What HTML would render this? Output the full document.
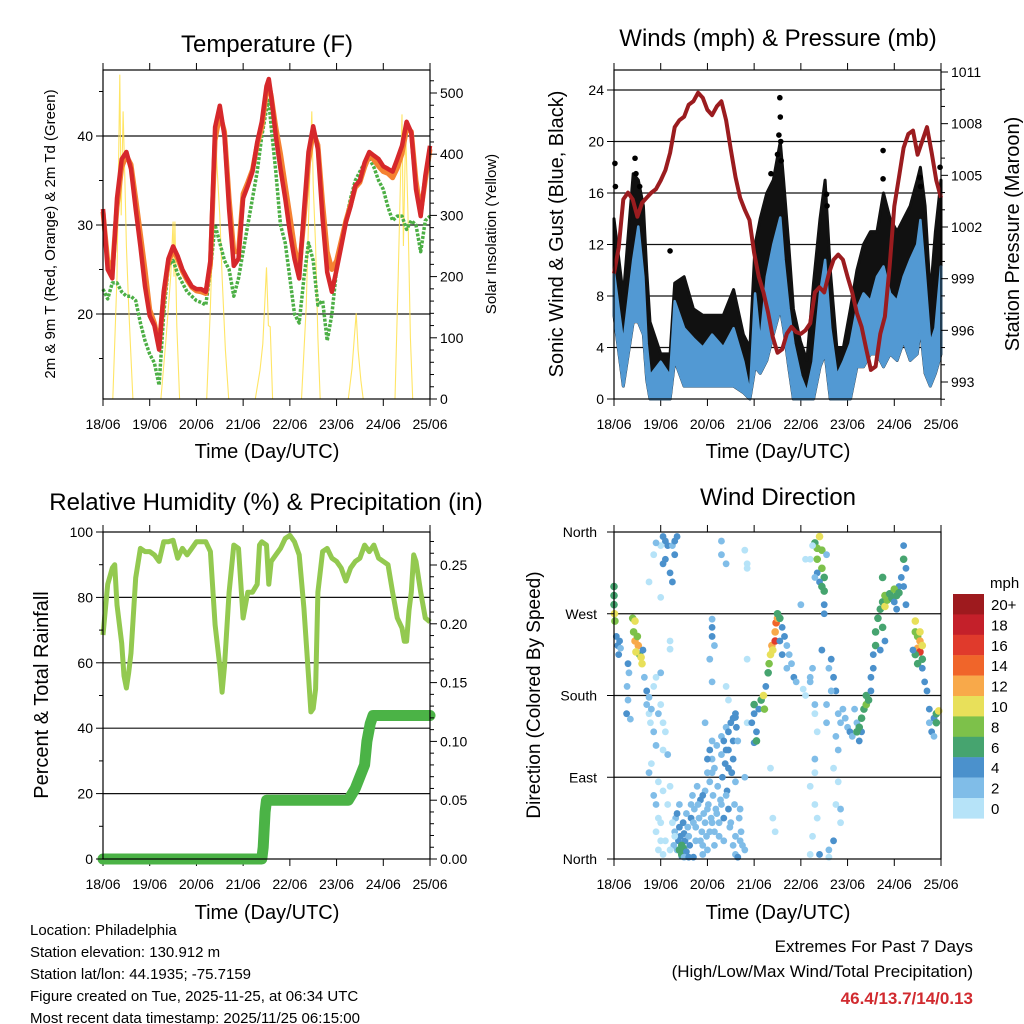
<!DOCTYPE html>
<html><head><meta charset="utf-8"><style>
html,body{margin:0;padding:0;background:#fff;}
svg{display:block;font-family:"Liberation Sans",sans-serif;}
</style></head><body>
<svg id="root" width="1024" height="1024" viewBox="0 0 1024 1024" xmlns="http://www.w3.org/2000/svg">
<rect x="0" y="0" width="1024" height="1024" fill="#fff"/>
<text x="267" y="52" font-size="24" text-anchor="middle">Temperature (F)</text>
<text x="778" y="46" font-size="24" text-anchor="middle">Winds (mph) &amp; Pressure (mb)</text>
<text x="266" y="510" font-size="24" text-anchor="middle">Relative Humidity (%) &amp; Precipitation (in)</text>
<text x="778" y="505" font-size="24" text-anchor="middle">Wind Direction</text>
<text x="267" y="458" font-size="20" text-anchor="middle">Time (Day/UTC)</text>
<text x="778" y="458" font-size="20" text-anchor="middle">Time (Day/UTC)</text>
<text x="267" y="919" font-size="20" text-anchor="middle">Time (Day/UTC)</text>
<text x="778" y="919" font-size="20" text-anchor="middle">Time (Day/UTC)</text>
<text transform="translate(55,234) rotate(-90)" font-size="15" text-anchor="middle">2m &amp; 9m T (Red, Orange) &amp; 2m Td (Green)</text>
<text transform="translate(496,234) rotate(-90)" font-size="15" text-anchor="middle">Solar Insolation (Yellow)</text>
<text transform="translate(563,234) rotate(-90)" font-size="20" text-anchor="middle">Sonic Wind &amp; Gust (Blue, Black)</text>
<text transform="translate(1019,234) rotate(-90)" font-size="20" text-anchor="middle">Station Pressure (Maroon)</text>
<text transform="translate(48,695) rotate(-90)" font-size="20" text-anchor="middle">Percent &amp; Total Rainfall</text>
<text transform="translate(540,695) rotate(-90)" font-size="19" text-anchor="middle">Direction (Colored By Speed)</text>
<g font-size="15">
<text x="30" y="935">Location: Philadelphia</text>
<text x="30" y="957">Station elevation: 130.912 m</text>
<text x="30" y="979">Station lat/lon: 44.1935; -75.7159</text>
<text x="30" y="1001">Figure created on Tue, 2025-11-25, at 06:34 UTC</text>
<text x="30" y="1023">Most recent data timestamp: 2025/11/25 06:15:00</text>
</g>
<g text-anchor="end">
<text x="973" y="952" font-size="17">Extremes For Past 7 Days</text>
<text x="973" y="977" font-size="17">(High/Low/Max Wind/Total Precipitation)</text>
<text x="973" y="1004" font-size="17" font-weight="bold" fill="#d12a2f">46.4/13.7/14/0.13</text>
</g>
</svg>
<script>
const days=["18/06","19/06","20/06","21/06","22/06","23/06","24/06","25/06"];
const tT=[0,0.1,0.2,0.3,0.4,0.5,0.6,0.7,0.8,0.9,1,1.1,1.2,1.3,1.4,1.5,1.6,1.7,1.8,1.9,2,2.1,2.2,2.3,2.4,2.5,2.6,2.7,2.8,2.9,3,3.1,3.2,3.3,3.4,3.5,3.55,3.6,3.7,3.8,3.9,4,4.1,4.2,4.3,4.4,4.5,4.6,4.7,4.8,4.9,5,5.1,5.2,5.3,5.4,5.5,5.6,5.7,5.8,5.9,6,6.1,6.2,6.3,6.4,6.5,6.6,6.7,6.8,6.9,7];
const tempRed=[31.8,25,24,33,37.4,38.2,36.3,31.8,27.6,23.1,19.8,18.7,16,22.5,26.2,27.6,26.5,25,24,23.1,22.8,22.8,22.5,26,41,43.4,40,31.8,25.4,26.2,33,34.4,36,39.3,41.6,45.6,46.4,44.5,40,36.3,33,29.2,26.2,24,31.5,38.2,41.1,38.5,30.7,24.7,22.5,25,27.6,30.3,32.1,34.4,35,37,38.2,37.8,37.4,36.6,36.3,36,37.4,38.9,41.6,40.4,34,31,35.5,38.9];
const tempOrange=[31.5,26,25,32,36.5,37.8,36.8,33,29,25,20.5,19,16.5,22,25.8,27.2,26.2,24.8,23.8,23,22.6,22.5,22.3,25.5,39.5,42.5,40.5,33,27,27,33.5,34.8,36.2,39,41,45,45.8,44.5,41,38,34.5,31,27.5,25,30.5,37,40.5,39,32.5,27,25,26,28.2,30.5,32.3,34.2,34.8,36.5,37.8,37.3,36.6,36,35.8,35.3,36.4,38,40.8,40.5,35,31.5,35,38.5];
const tempDew=[22.8,21.7,23.5,23.5,22.5,22,22,21.5,19,17,15.5,14.5,12,20,25.5,26,24.5,23.5,22.5,22,21.5,21.3,21,25,30,28,26,25,22,24,27,30,33,36,40,43,44,41,36,30,28,24,20,19,24,28,26,21,21.5,17,20,25,28,30.5,33,35,36,37,37.5,36.5,35,34,32,30.5,31,31,29.5,30.5,30,27,30.5,31];
const solarT=[0.21,0.3,0.36,0.39,0.43,0.47,0.5,0.55,0.64,1.24,1.35,1.45,1.5,1.52,1.54,1.58,1.64,2.22,2.3,2.36,2.4,2.44,2.5,2.55,2.62,2.69,3.26,3.36,3.42,3.5,3.54,3.58,3.63,4.25,4.35,4.42,4.47,4.5,4.55,4.6,4.65,5.25,5.33,5.38,5.42,5.46,5.52,5.57,6.25,6.32,6.4,6.43,6.48,6.53,6.58,6.63];
const solarV=[0,200,530,300,470,350,250,150,0,0,100,200,290,200,290,120,0,0,150,300,455,380,300,200,80,0,0,47,90,215,120,118,0,0,150,350,470,350,250,100,0,0,50,100,140,80,30,0,0,200,465,250,440,300,100,0];
const pT=[0,0.1,0.2,0.3,0.4,0.5,0.6,0.7,0.8,0.9,1,1.1,1.2,1.3,1.4,1.5,1.6,1.7,1.8,1.9,2,2.1,2.2,2.3,2.4,2.5,2.6,2.7,2.8,2.9,3,3.1,3.2,3.3,3.4,3.5,3.6,3.7,3.8,3.9,4,4.1,4.2,4.3,4.4,4.5,4.6,4.7,4.8,4.9,5,5.1,5.2,5.3,5.4,5.5,5.6,5.7,5.8,5.9,6,6.1,6.2,6.3,6.4,6.5,6.6,6.7,6.8,6.9,7];
const pressure=[999.3,1000.8,1003.6,1004,1003.6,1002.6,1003.4,1003.7,1004,1004.2,1004.7,1005.3,1006.3,1007.8,1008.2,1008.4,1009.1,1009.3,1009.8,1009.5,1008.8,1008.5,1009,1009.3,1008.2,1006.5,1004.9,1003.7,1003,1002.4,1000.5,999.1,998.2,997,995.6,994.7,994.9,995.8,996.2,995.9,995.8,996,996.4,998.2,998.5,998.2,999.3,1000.1,1000.4,1000.1,999.1,998.2,997,996.2,994.9,993.7,993.9,995.8,996.8,999.7,1003.2,1004.9,1006.6,1007.4,1007.6,1006.2,1007,1007.8,1006.3,1004.7,1003.7];
const wT=[0,0.2,0.41,0.52,0.63,0.7,0.77,1.0,1.2,1.3,1.5,1.7,1.9,2.1,2.34,2.56,2.77,2.91,3.02,3.13,3.27,3.41,3.56,3.63,3.74,3.84,3.99,4.13,4.27,4.41,4.52,4.63,4.77,4.91,5.06,5.2,5.34,5.49,5.63,5.77,5.91,6.06,6.2,6.34,6.49,6.56,6.66,6.77,6.88,7];
const windHigh=[9.8,4.3,10.8,13.4,9.5,4.3,1.8,2.9,1.8,7.6,5.5,4.7,4,5,4,5.5,2.9,0.4,8.2,4.3,9.5,12,14.1,10.8,7,4.3,1.8,0.5,2.9,8.2,10.8,5.5,1.8,2.9,4.3,7,8.2,7.6,9.5,10.3,8.2,7.6,9.5,10.8,12,13.9,9.5,4.3,5.5,10.3];
const windLow=[6.5,1,6,6,5,1.5,0,0,0,3,1,1,1,1,1,1,0.5,0,2.5,2,3,5,7,5.5,2.5,0,0,0,0,2.5,3.5,0,0,0,0,2.5,2.5,3.5,3.5,2.5,3.5,3,4.5,3,3.5,5.5,2,1,2,3.5];
const gustHigh=[14,8,17.5,17,15,10,6,3.5,3.5,9,9.5,7,6.5,6.5,6.5,8.5,5,4,12,14,16,17,20,17,12,7,4.5,3,9,14,17,10,4,4,7,10,12,13,13,16,14,13,14,15,17,18,15,8,13,17];
const gustDotT=[0.02,0.03,0.45,0.47,0.55,1.2,3.36,3.5,3.53,3.55,3.56,3.57,3.58,4.55,4.56,5.76,5.76,6.55,6.56,6.98];
const gustDotV=[18.3,16.5,18.7,17.5,16.5,11.5,17.5,19,20.5,23.4,21.9,20,18.5,15.9,15,19.3,17.1,17.2,16.5,18];
const rhT=[0,0.1,0.2,0.25,0.3,0.4,0.45,0.5,0.55,0.6,0.7,0.8,0.9,1,1.1,1.2,1.3,1.4,1.5,1.6,1.7,1.8,1.9,2,2.1,2.2,2.3,2.4,2.5,2.55,2.6,2.7,2.8,2.9,3,3.1,3.2,3.3,3.35,3.4,3.5,3.55,3.6,3.7,3.8,3.9,4,4.1,4.2,4.3,4.4,4.45,4.5,4.55,4.6,4.7,4.8,4.9,5,5.1,5.2,5.3,5.4,5.5,5.6,5.7,5.8,5.9,6,6.1,6.2,6.3,6.4,6.45,6.5,6.55,6.6,6.65,6.7,6.8,6.9,7];
const rhV=[68.5,84,89,90,77.7,66,56,52.3,57,63,86,95,94,94,93,91,97,97,97.5,92,95,93,95,97,97,97,94,71.6,59,51,59,81.6,96,95,73.7,81.6,81.6,84,96,97,96,84,91,93,95,98,99,97,93,76.8,56,45,46,52,81.6,94,95,92,91,89,85,89,91,92,96,94,96,92,91,90,81.6,73.7,70.6,66.6,66.6,76,81.6,93,91,81.6,73.7,72.5];
const rainT=[0,3.4,3.43,3.47,3.5,5.25,5.4,5.5,5.6,5.65,5.72,5.78,7];
const rainV=[0,0,0.01,0.04,0.05,0.05,0.06,0.07,0.08,0.1,0.115,0.122,0.122];
const dirT=[0,0,0.01,0.02,0,0.05,0.08,0.1,0.12,0.14,0.4,0.45,0.42,0.45,0.5,0.52,0.55,0.58,0.6,0.47,0.62,0.3,0.32,0.28,0.3,0.27,0.35,
0.65,0.7,0.75,0.8,0.78,0.85,0.9,0.8,0.75,0.95,1,1.05,1.1,1.15,1.05,1.2,0.85,0.9,0.95,0.9,1,0.95,1.05,1.2,1.2,
1.35,1.4,1.38,1.45,1.5,1.45,1.55,1.6,1.7,1.8,1.9,2,2.1,2.2,2.3,2.4,2.5,2.6,2.7,2.8,1.65,1.75,1.85,1.95,2.05,2.15,2.25,2.35,2.45,2.55,1.3,1.2,1.1,1,1.5,1.6,1.7,2.65,2,1.9,
2,2.05,2.1,2.15,2.3,2.35,2.4,2.45,2.5,2.55,2.6,2.55,2.45,2.6,1.95,2.1,2.8,2.85,2.65,2.4,2.45,
1.05,1.1,1.15,1,0.85,1.05,1.1,1.25,1.3,1.3,1.35,1.2,1.25,0.9,1,2.3,2.3,2.4,2.8,2.85,2.85,0.75,2.1,2.1,2.1,2.15,2.05,2.1,2.85,2.6,
2.95,3,3.05,3,3.1,3.15,3.2,3.22,3.25,3.3,3.32,3.35,3.38,3.4,3.45,3.47,3.5,3.45,3.5,3.55,3.6,3.65,3.7,3.75,3.8,3.85,3.9,3.6,3.7,3.55,3,3.05,
4.3,4.35,4.35,4.4,4.45,4.45,4.5,4.5,4.5,4.4,4.35,4.3,4.45,4.2,4.25,4.1,4.55,4,4.5,
4.3,4.35,4.3,4.3,4.3,4.35,4.4,4.2,4.6,4.6,4.3,4.1,4.2,4.25,4.2,4.05,
4.6,4.65,4.7,4.75,4.8,4.85,4.9,4.95,5,5.05,5.1,4.75,4.8,4.7,4.8,4.75,4.85,4.85,4.7,4.55,4.65,4.45,4.55,5.15,5.2,5.25,5.3,
5.2,5.25,5.3,5.35,5.4,5.45,5.4,
5.5,5.5,5.55,5.55,5.6,5.6,5.65,5.7,5.75,5.8,5.8,5.85,5.9,5.95,6,6.05,6.05,6.1,6.15,6.2,6.2,6.25,6.2,6.25,5.75,5.8,5.7,5.75,6,6.1,
6.45,6.45,6.5,6.55,6.5,6.55,6.6,6.45,6.5,6.6,6.4,6.55,6.6,6.65,6.7,6.75,6.75,6.8,6.85,6.9,6.95,6.9,6.85];
const dirDeg=[290,280,270,262,300,245,235,225,240,232,265,262,250,240,245,235,225,222,215,228,230,215,205,190,175,160,154,
200,185,178,165,150,140,125,105,95,160,170,150,140,115,120,80,70,60,45,30,20,10,5,240,231,
50,35,20,15,10,5,8,25,40,60,70,55,40,50,60,70,40,25,20,10,60,35,20,40,30,15,25,45,55,15,25,10,20,40,2,2,2,2,10,5,
110,120,130,100,135,130,120,140,150,155,160,110,100,85,150,95,90,150,130,190,175,
355,350,345,345,335,325,330,345,335,350,355,315,305,348,288,350,335,325,340,325,320,305,264,255,245,235,220,195,220,156,
150,160,140,170,165,175,180,165,190,205,215,225,235,230,250,260,265,240,270,265,255,245,235,225,215,200,195,225,210,240,128,130,
348,342,330,355,340,320,310,295,280,305,315,310,300,330,345,330,335,280,270,
160,140,110,95,60,45,5,5,10,2,170,180,200,210,195,187,
210,220,200,185,160,150,165,155,145,140,135,135,120,100,85,60,55,40,20,170,185,230,150,165,150,130,140,
140,145,155,165,170,175,180,
185,200,210,225,235,250,265,275,283,290,278,285,292,287,283,275,290,300,310,330,345,320,300,280,255,240,230,310,297,293,
262,250,245,240,232,228,235,225,215,220,230,250,210,195,185,165,150,140,155,160,163,150,135];
const dirSpd=[7,7,10,9,6,5,5,5,4,3,8,11,9,13,8,12,7,11,10,10,5,4,3,2,3,4,2,
3,4,3,2,1,2,3,1,2,2,1,1,1,2,1,1,2,3,1,1,1,1,1,1,1,
4,4,5,6,7,6,4,3,3,3,4,3,3,2,3,2,3,3,2,2,3,2,2,3,2,2,3,4,4,3,1,1,1,1,3,4,4,4,2,3,
4,4,3,2,3,4,4,4,4,4,4,5,4,3,2,2,2,1,3,1,1,
4,4,4,1,1,4,4,3,4,4,4,4,4,2,1,2,2,2,1,1,1,1,2,4,4,3,3,2,1,4,
4,4,4,6,5,7,10,8,5,6,9,10,12,11,13,15,13,16,7,7,5,4,3,3,3,4,3,4,3,5,4,6,
7,9,8,10,8,9,6,6,5,5,4,3,6,1,1,1,2,2,4,
1,1,2,1,1,1,4,1,3,1,2,1,2,3,3,1,
3,4,4,4,3,3,3,3,3,4,2,2,2,1,1,1,3,1,4,3,2,4,2,3,3,5,4,
6,6,6,7,8,7,6,
4,4,4,4,6,6,6,7,7,9,10,8,7,6,4,4,6,4,4,6,5,4,4,4,6,4,4,7,8,7,
10,9,8,12,13,16,10,7,7,6,4,11,4,4,4,4,3,4,4,6,10,6,3];
const dirT2=[1.3,1.32,1.35,1.4,1.42,1.48,1.52,1.55,1.58,1.62,1.65,1.68,1.72,1.75,1.78,1.82,1.85,1.88,1.92,1.95,1.98,2.02,2.05,2.08,2.12,2.15,2.18,2.22,2.25,2.28,2.32,2.35,2.38,2.42,2.45,2.48,2.52,2.55,2.58,2.62,2.68,2.72,2.75,1.25,1.15,1.05,0.95,1.28,1.45,1.5,1.4,1.48,2.6,2.7,1.9,2.0,2.1,2.2,2.3,2.4,0.85,0.9,1.0,0.7,0.75,3.35,3.4,3.45,4.2,4.25];
const dirDeg2=[30,45,10,60,25,40,20,50,35,15,45,70,55,20,80,45,65,30,50,75,25,60,85,45,70,30,55,80,40,65,90,20,105,75,120,35,95,130,60,145,45,30,15,40,60,75,85,15,3,28,10,12,5,55,15,95,110,125,115,145,190,200,205,170,160,100,45,30,80,25];
const dirSpd2=[3,3,3,2,5,4,5,3,3,4,4,3,3,3,2,3,4,3,3,2,3,3,3,3,2,3,3,3,3,3,4,3,4,4,4,3,4,4,3,4,3,3,2,1,1,1,1,2,4,4,6,6,2,2,2,2,3,3,3,3,1,1,2,2,1,1,1,1,1,1];
const speedColors=["#b6e3f8","#80bde8","#4b91cc","#46a46f","#7dc14a","#e8e05a","#f8a94a","#f0652a","#e03a2c","#c4202a","#9e1a1e"];
const cbLabels=["0","2","4","6","8","10","12","14","16","18","20+"];

const NS="http://www.w3.org/2000/svg";
const root=document.getElementById('root');
function mk(tag,attrs,parent){const e=document.createElementNS(NS,tag);for(const k in attrs)e.setAttribute(k,attrs[k]);(parent||root).appendChild(e);return e;}
function lin(d0,d1,r0,r1){return v=>r0+(v-d0)/(d1-d0)*(r1-r0);}
function pathD(xs,ys,fx,fy){return xs.map((x,i)=>(i?'L':'M')+fx(x).toFixed(1)+','+fy(ys[i]).toFixed(1)).join('');}
function bandD(xs,hi,lo,fx,fy){
  let d='M'+xs.map((t,i)=>fx(t).toFixed(1)+','+fy(hi[i]).toFixed(1)).join('L');
  for(let i=xs.length-1;i>=0;i--)d+='L'+fx(xs[i]).toFixed(1)+','+fy(lo[i]).toFixed(1);
  return d+'Z';
}

function frame(name,x0,y0,x1,y1){
  const g=mk('g',{});
  
  
  const sx=lin(0,7,x0,x1);
  for(let i=0;i<=7;i++){
    const x=sx(i);
    const t1=mk('line',{x1:x,x2:x,y1:y1,y2:y1+7,stroke:'#000','stroke-width':1},g);
    
    
    const t2=mk('line',{x1:x,x2:x,y1:y0,y2:y0-7,stroke:'#000','stroke-width':1},g);
    
    
    const lb=mk('text',{x:x,y:y1+30,'font-size':14,'text-anchor':'middle'},g);
    lb.textContent=days[i];
    
    
  }
  return {g,sx};
}
function box(x0,y0,x1,y1,name){
  const r=mk('rect',{x:x0,y:y0,width:x1-x0,height:y1-y0,fill:'none',stroke:'#000','stroke-width':1.2});
  
  
}
function hgrid(y,x0,x1){const l=mk('line',{x1:x0,x2:x1,y1:y,y2:y,stroke:'#111','stroke-width':1.2});}
function yTicks(fy,x,dir,labelFmt,major,minorStep,lo,hi){
  for(let v=lo;v<=hi+1e-9;v+=minorStep){
    const y=fy(v);const isMaj=major.some(m=>Math.abs(m-v)<1e-6);
    const t=mk('line',{x1:x,x2:x+dir*(isMaj?7:4),y1:y,y2:y,stroke:'#000','stroke-width':1});
    
    
  }
  major.forEach(m=>{
    const lb=mk('text',{x:x+dir*10,y:fy(m)+5,'font-size':14,'text-anchor':dir<0?'end':'start'});
    lb.textContent=labelFmt(m);
    
    
  });
}

/* Panel 1: Temperature */
{
  const x0=103,x1=430,y0=70,y1=399;
  const {sx}=frame('temperature',x0,y0,x1,y1);
  const fy=lin(20,30,314,225);
  const fs=lin(0,500,399,93);
  [20,30,40].forEach(v=>hgrid(fy(v),x0,x1));
  const sol=mk('path',{d:pathD(solarT,solarV,sx,fs),fill:'none',stroke:'#ffe14a','stroke-width':1.1,opacity:0.85});
  
  
  const pdew=mk('path',{d:pathD(tT,tempDew,sx,fy),fill:'none',stroke:'#4caf45','stroke-width':3.5,'stroke-linejoin':'round','stroke-dasharray':'3 1.5'});
  
  
  const por=mk('path',{d:pathD(tT,tempOrange,sx,fy),fill:'none',stroke:'#f58232','stroke-width':5,'stroke-linejoin':'round'});
  
  
  const pr=mk('path',{d:pathD(tT,tempRed,sx,fy),fill:'none',stroke:'#d6282b','stroke-width':4.5,'stroke-linejoin':'round'});
  
  
  box(x0,y0,x1,y1,'temperature');
  yTicks(fy,x0,-1,v=>v,[20,30,40],5,15,45);
  yTicks(fs,x1,1,v=>v,[0,100,200,300,400,500],20,0,520);
}
/* Panel 2: Winds */
{
  const x0=614,x1=941,y0=70,y1=399;
  const {sx}=frame('winds',x0,y0,x1,y1);
  const fy=lin(0,24,399,90);
  const fp=lin(993,1011,382,72);
  [4,8,12,16,20,24].forEach(v=>hgrid(fy(v),x0,x1));
  const gb=mk('path',{d:bandD(wT,gustHigh,windLow,sx,fy),fill:'#111',stroke:'#111','stroke-width':3,'stroke-linejoin':'round'});
  
  
  gustDotT.forEach((t,i)=>{const c=mk('circle',{cx:sx(t),cy:fy(gustDotV[i]),r:2.8,fill:'#000'});});
  const bb=mk('path',{d:bandD(wT,windHigh,windLow,sx,fy),fill:'#5299d3',stroke:'#5299d3','stroke-width':2.5,'stroke-linejoin':'round'});
  
  
  const pp=mk('path',{d:pathD(pT,pressure,sx,fp),fill:'none',stroke:'#9b1c1f','stroke-width':4,'stroke-linejoin':'round'});
  
  
  box(x0,y0,x1,y1,'winds');
  yTicks(fy,x0,-1,v=>v,[0,4,8,12,16,20,24],4,0,24);
  yTicks(fp,x1,1,v=>v,[993,996,999,1002,1005,1008,1011],1,992,1011);
}
/* Panel 3: Humidity */
{
  const x0=103,x1=430,y0=532,y1=859;
  const {sx}=frame('humidity',x0,y0,x1,y1);
  const fy=lin(0,100,859,532);
  const fr=lin(0,0.25,859,565);
  [20,40,60,80].forEach(v=>hgrid(fy(v),x0,x1));
  const ph=mk('path',{d:pathD(rhT,rhV,sx,fy),fill:'none',stroke:'#93c950','stroke-width':5,'stroke-linejoin':'round'});
  
  
  const prn=mk('path',{d:pathD(rainT,rainV,sx,fr),fill:'none',stroke:'#4bb346','stroke-width':11,'stroke-linejoin':'round','stroke-linecap':'round'});
  
  
  box(x0,y0,x1,y1,'humidity');
  yTicks(fy,x0,-1,v=>v,[0,20,40,60,80,100],10,0,100);
  yTicks(fr,x1,1,v=>v.toFixed(2),[0,0.05,0.1,0.15,0.2,0.25],0.01,0,0.27);
}
/* Panel 4: Wind direction */
{
  const x0=614,x1=941,y0=532,y1=859;
  const {sx}=frame('direction',x0,y0,x1,y1);
  const fy=lin(0,360,859,532);
  [90,180,270].forEach(v=>hgrid(fy(v),x0,x1));
  function pts(T,D,S){
    T.forEach((t,i)=>{
      const ci=Math.min(10,Math.floor(S[i]/2));
      const c=mk('circle',{cx:sx(t),cy:fy(D[i]),r:ci>=3?3.8:3.4,fill:speedColors[ci]});
      
      
    });
  }
  pts(dirT2,dirDeg2,dirSpd2);
  pts(dirT,dirDeg,dirSpd);
  box(x0,y0,x1,y1,'direction');
  const names=['North','East','South','West','North'];
  [0,90,180,270,360].forEach((v,i)=>{
    const t=mk('line',{x1:x0,x2:x0-7,y1:fy(v),y2:fy(v),stroke:'#000'});
    
    
    const lb=mk('text',{x:x0-17,y:fy(v)+5,'font-size':14,'text-anchor':'end'});
    lb.textContent=names[i];
    
    
  });
  const cb=mk('g',{});
  
  
  const bt=mk('text',{x:990,y:588,'font-size':15},cb);
  bt.textContent='mph';
  
  
  for(let k=0;k<11;k++){
    const idx=10-k;const yy=594+k*20.4;
    const r=mk('rect',{x:953,y:yy,width:31,height:20.6,fill:speedColors[idx]},cb);
    
    
    const lb=mk('text',{x:991,y:yy+16,'font-size':15},cb);
    lb.textContent=cbLabels[idx];
    
    
  }
}
</script>
</body></html>
